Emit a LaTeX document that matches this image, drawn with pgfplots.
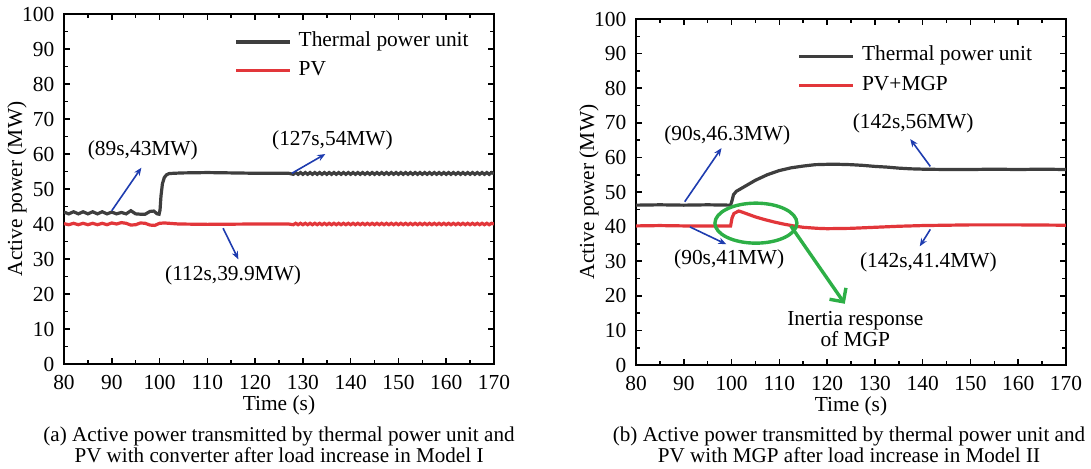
\documentclass[border=0pt]{standalone}
\usepackage{fontspec}
\setmainfont{Liberation Serif}
\usepackage{pgfplots}
\pgfplotsset{compat=1.18}
\usetikzlibrary{arrows.meta}

\definecolor{thermal}{RGB}{62,62,62}
\definecolor{pvred}{RGB}{226,54,58}
\definecolor{annblue}{RGB}{30,60,175}
\definecolor{inertiagreen}{RGB}{45,175,70}

\newcommand{\figfont}{\fontsize{10.7}{10.5}\selectfont}
\newcommand{\capfont}{\fontsize{10.55}{10.5}\selectfont}

\tikzset{
  thermalline/.style={thermal, line width=1.6pt},
  pvline/.style={pvred, line width=1.6pt},
  ann/.style={annblue, line width=0.8pt, -{Stealth[length=4pt,width=3.2pt]}},
}

\pgfplotsset{
  panel/.style={
    scale only axis,
    width=215pt,
    xmin=80, xmax=170, ymin=0, ymax=100,
    xtick={80,90,...,170}, ytick={0,10,...,100},
    minor x tick num=1, minor y tick num=1,
    tick align=inside, tick pos=both,
    major tick length=3pt, minor tick length=1.8pt,
    every tick/.style={black, line width=0.8pt},
    axis line style={line width=1pt},
    font=\figfont,
    tick label style={font=\figfont},
    /pgf/number format/assume math mode=true,
    xticklabel style={yshift=-2.2pt},
    yticklabel style={xshift=-1.3pt},
    xlabel={Time (s)},
    ylabel={Active power (MW)},
    every axis x label/.style={at={([yshift=-20.5pt]axis description cs:0.5,0)}, anchor=center},
    every axis y label/.style={at={([xshift=-23.5pt]axis description cs:0,0.5)}, rotate=90, anchor=center},
    legend image code/.code={\draw[##1] (0pt,0pt) -- (27pt,0pt);},
    legend cell align=left,
    legend style={draw=none, fill=none, inner sep=0pt, row sep=3.5pt, column sep=2.5pt, font=\figfont,
      nodes={inner sep=1pt, text height=6.8pt, text depth=2pt}},
  }
}

\begin{document}
\begin{tikzpicture}[font=\figfont]

% (a) Model I
\begin{axis}[panel, height=175pt,
  legend style={at={(axis cs:115.6,95.2)}, anchor=north west}]
\addplot[thermalline] coordinates {
(80,43.4) (81,42.9) (82,43.5) (83,42.9) (84,43.5) (85,42.9) (86,43.5) (87,42.9)
(88,43.5) (89,42.9) (90,43.4) (91,42.9) (92,43.3) (93,42.9) (94,43.8) (95,42.9)
(96,42.8) (97,42.8) (98,43.6) (98.8,43.7) (99.5,42.9) (99.9,42.8) (100.1,44.0)
(100.3,48.0) (100.6,51.5) (101,53.3) (101.5,54.1) (102,54.4) (103,54.5) (105,54.6)
(110,54.7) (115,54.6) (120,54.5) (127,54.5)
(128,54.2) (128.5,54.7) (129,54.2) (129.5,54.7) (130,54.2) (130.5,54.7) (131,54.2) (131.5,54.7)
(132,54.2) (132.5,54.7) (133,54.2) (133.5,54.7) (134,54.2) (134.5,54.7) (135,54.2) (135.5,54.7)
(136,54.2) (136.5,54.7) (137,54.2) (137.5,54.7) (138,54.2) (138.5,54.7) (139,54.2) (139.5,54.7)
(140,54.2) (140.5,54.7) (141,54.2) (141.5,54.7) (142,54.2) (142.5,54.7) (143,54.2) (143.5,54.7)
(144,54.2) (144.5,54.7) (145,54.2) (145.5,54.7) (146,54.2) (146.5,54.7) (147,54.2) (147.5,54.7)
(148,54.2) (148.5,54.7) (149,54.2) (149.5,54.7) (150,54.2) (150.5,54.7) (151,54.2) (151.5,54.7)
(152,54.2) (152.5,54.7) (153,54.2) (153.5,54.7) (154,54.2) (154.5,54.7) (155,54.2) (155.5,54.7)
(156,54.2) (156.5,54.7) (157,54.2) (157.5,54.7) (158,54.2) (158.5,54.7) (159,54.2) (159.5,54.7)
(160,54.2) (160.5,54.7) (161,54.2) (161.5,54.7) (162,54.2) (162.5,54.7) (163,54.2) (163.5,54.7)
(164,54.2) (164.5,54.7) (165,54.2) (165.5,54.7) (166,54.2) (166.5,54.7) (167,54.2) (167.5,54.7)
(168,54.2) (168.5,54.7) (169,54.2) (169.5,54.7) (170,54.4)
};
\addlegendentry{Thermal power unit}
\addplot[pvline] coordinates {
(80,40.1) (81,39.8) (82,40.2) (83,39.8) (84,40.2) (85,39.8) (86,40.2) (87,39.8)
(88,40.2) (89,39.8) (90,40.3) (91,40.0) (92,40.4) (93,40.2) (94,39.7) (95,39.8)
(96,40.3) (97,40.2) (98,39.7) (99,39.6) (100,40.2) (101,40.3) (102,40.2) (104,40.0)
(110,39.9) (120,40.0) (127,40.0)
(128,39.8) (128.5,40.2) (129,39.8) (129.5,40.2) (130,39.8) (130.5,40.2) (131,39.8) (131.5,40.2)
(132,39.8) (132.5,40.2) (133,39.8) (133.5,40.2) (134,39.8) (134.5,40.2) (135,39.8) (135.5,40.2)
(136,39.8) (136.5,40.2) (137,39.8) (137.5,40.2) (138,39.8) (138.5,40.2) (139,39.8) (139.5,40.2)
(140,39.8) (140.5,40.2) (141,39.8) (141.5,40.2) (142,39.8) (142.5,40.2) (143,39.8) (143.5,40.2)
(144,39.8) (144.5,40.2) (145,39.8) (145.5,40.2) (146,39.8) (146.5,40.2) (147,39.8) (147.5,40.2)
(148,39.8) (148.5,40.2) (149,39.8) (149.5,40.2) (150,39.8) (150.5,40.2) (151,39.8) (151.5,40.2)
(152,39.8) (152.5,40.2) (153,39.8) (153.5,40.2) (154,39.8) (154.5,40.2) (155,39.8) (155.5,40.2)
(156,39.8) (156.5,40.2) (157,39.8) (157.5,40.2) (158,39.8) (158.5,40.2) (159,39.8) (159.5,40.2)
(160,39.8) (160.5,40.2) (161,39.8) (161.5,40.2) (162,39.8) (162.5,40.2) (163,39.8) (163.5,40.2)
(164,39.8) (164.5,40.2) (165,39.8) (165.5,40.2) (166,39.8) (166.5,40.2) (167,39.8) (167.5,40.2)
(168,39.8) (168.5,40.2) (169,39.8) (169.5,40.2) (170,40.0)
};
\addlegendentry{PV}
\draw[ann] (axis cs:90.0,43.8) -- (axis cs:96.2,56.1);
\node at (axis cs:96.5,61.1) {(89s,43MW)};
\draw[ann] (axis cs:127.7,54.5) -- (axis cs:134.7,60.0);
\node at (axis cs:136.2,64.0) {(127s,54MW)};
\draw[ann] (axis cs:113.3,38.8) -- (axis cs:116.5,29.9);
\node at (axis cs:115.4,25.4) {(112s,39.9MW)};
\end{axis}
\node[align=center, font=\capfont] at (107.5pt,-40.5pt)
  {(a) Active power transmitted by thermal power unit and\\PV with converter after load increase in Model I};

% (b) Model II
\begin{axis}[panel, height=173pt, at={(286pt,-0.5pt)},
  legend style={at={(axis cs:113.8,92.5)}, anchor=north west, row sep=4pt}]
\addplot[thermalline] coordinates {
(80,46.2) (85,46.3) (90,46.2) (95,46.3) (99.8,46.2) (100.1,47.5) (100.4,49.2)
(101,50.2) (103,51.8) (105,53.4) (107.5,55.0) (110,56.2) (112.5,57.0) (115,57.5)
(117.5,57.9) (120,58.0) (122.5,58.0) (125,57.9) (127.5,57.7) (130,57.4) (132.5,57.2)
(135,56.9) (137.5,56.7) (140,56.6) (145,56.5) (150,56.5) (155,56.6) (160,56.5)
(165,56.6) (170,56.5)
};
\addlegendentry{Thermal power unit}
\addplot[pvline] coordinates {
(80,40.2) (85,40.3) (90,40.2) (95,40.2) (99.8,40.2) (100.1,42.5) (100.5,43.8)
(101.5,44.5) (102,44.3) (103,43.8) (105,42.8) (107,42.0) (109,41.3) (111,40.7)
(113,40.2) (115,39.8) (118,39.5) (120,39.4) (125,39.5) (130,39.8) (135,40.1)
(140,40.3) (150,40.5) (160,40.5) (170,40.4)
};
\addlegendentry{PV+MGP}
\draw[ann] (axis cs:90.2,47.2) -- (axis cs:97.9,62.7);
\node at (axis cs:99.1,66.5) {(90s,46.3MW)};
\draw[ann] (axis cs:141.6,57.4) -- (axis cs:137.4,65.3);
\node at (axis cs:138.0,69.7) {(142s,56MW)};
\draw[ann] (axis cs:91.3,39.9) -- (axis cs:98.9,34.9);
\node at (axis cs:99.5,30.6) {(90s,41MW)};
\draw[ann] (axis cs:141.6,39.2) -- (axis cs:139.4,34.3);
\node at (axis cs:141.2,29.7) {(142s,41.4MW)};
\draw[inertiagreen, line width=1.7pt] (axis cs:105.1,41.0) ellipse [x radius=20.5pt, y radius=10pt];
\draw[inertiagreen, line width=1.7pt, -{Straight Barb[length=5pt,width=10pt]}]
  (axis cs:112.4,40.2) -- (axis cs:123.7,17.7);
\node[align=center] at (axis cs:125.9,10.35) {Inertia response\\of MGP};
\end{axis}
\node[align=center, font=\capfont] at (392.5pt,-40.5pt)
  {(b) Active power transmitted by thermal power unit and\\PV with MGP after load increase in Model II};

\pgfresetboundingbox
\useasboundingbox (-32pt,-52pt) rectangle (513.5pt,182pt);
\end{tikzpicture}
\end{document}
